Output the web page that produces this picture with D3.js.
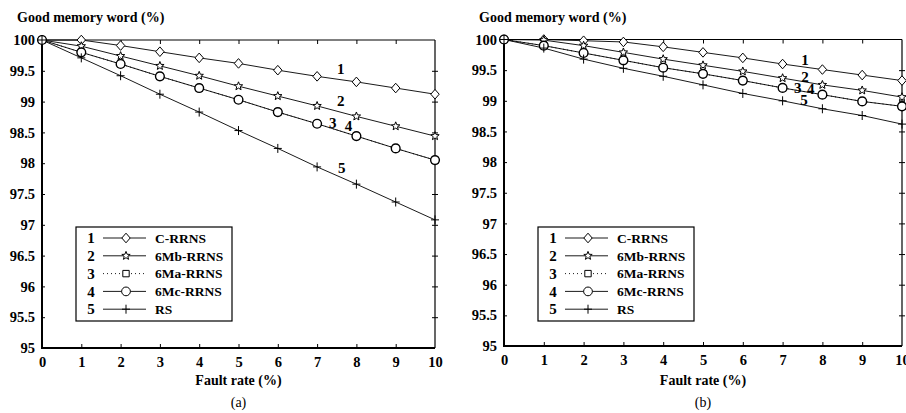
<!DOCTYPE html>
<html><head><meta charset="utf-8">
<script src="https://cdn.jsdelivr.net/npm/d3@7/dist/d3.min.js"></script>
<style>
html,body{margin:0;padding:0;background:#fff;}
svg text{font-family:"Liberation Serif","Times New Roman",serif;fill:#000;}
</style></head>
<body><svg id="chart" width="906" height="413"></svg>
<script>
// ---------- data ----------
const faultRate = [0,1,2,3,4,5,6,7,8,9,10];
const xTickLabels = ["0","1","2","3","4","5","6","7","8","9","10"];
const yTickValues = [95,95.5,96,96.5,97,97.5,98,98.5,99,99.5,100];
const yTickLabels = ["95","95.5","96","96.5","97","97.5","98","98.5","99","99.5","100"];
const seriesNumbers = ["1","2","3","4","5"];
const seriesNames = ["C-RRNS","6Mb-RRNS","6Ma-RRNS","6Mc-RRNS","RS"];
const panelLetters = ["(a)","(b)"];
const yTitle = "Good memory word (%)";
const xTitle = "Fault rate (%)";

// panel (a)
const a_CRRNS  = [100,100.0,99.91,99.81,99.71,99.62,99.51,99.41,99.32,99.22,99.12];
const a_6MbRRNS= [100,99.90,99.74,99.58,99.42,99.25,99.09,98.93,98.76,98.60,98.44];
const a_6MaRRNS= [100,99.80,99.61,99.41,99.22,99.03,98.83,98.64,98.44,98.24,98.05];
const a_6McRRNS= [100,99.80,99.61,99.41,99.22,99.03,98.83,98.64,98.44,98.24,98.05];
const a_RS     = [100,99.71,99.42,99.12,98.83,98.53,98.24,97.94,97.66,97.37,97.08];
// panel (b)
const b_CRRNS  = [100,100.0,99.98,99.96,99.88,99.79,99.70,99.60,99.51,99.42,99.33];
const b_6MbRRNS= [100,99.99,99.90,99.79,99.68,99.58,99.48,99.37,99.26,99.17,99.06];
const b_6MaRRNS= [100,99.90,99.78,99.66,99.54,99.44,99.33,99.21,99.10,98.99,98.91];
const b_6McRRNS= [100,99.90,99.78,99.66,99.54,99.44,99.33,99.21,99.10,98.99,98.91];
const b_RS     = [100,99.86,99.68,99.53,99.40,99.26,99.12,99.00,98.87,98.76,98.62];

// curve-number annotations (data coordinates: fault rate, percent)
const a_labelX = [7.6,7.6,7.4,7.8,7.63];
const a_labelY = [99.54,99.01,98.66,98.60,97.92];
const b_labelX = [7.56,7.56,7.38,7.71,7.54];
const b_labelY = [99.67,99.40,99.21,99.19,99.01];

// ---------- drawing ----------
const svg = d3.select("#chart");
const markerTypes = ["diamond","star","square","circle","plus"];
const dashes = [null,null,"1,3",null,null];

function markerPath(type){
  switch(type){
    case "diamond": return "M0,-4.8L4.2,0L0,4.8L-4.2,0Z";
    case "square": return "M-3.2,-3.2H3.2V3.2H-3.2Z";
    case "circle": return d3.symbol(d3.symbolCircle, 60)();
    case "star": {
      let p=""; for(let i=0;i<10;i++){const r=i%2?1.9:4.4;const a=-Math.PI/2+i*Math.PI/5;
        p+=(i?"L":"M")+(r*Math.cos(a)).toFixed(2)+","+(r*Math.sin(a)).toFixed(2);} return p+"Z";}
    case "plus": return "M-4,0H4M0,-4.5V4.5";
  }
}

function drawPanel(cfg){
  const g = svg.append("g");
  const x = d3.scaleLinear().domain([0,10]).range([cfg.x0,cfg.x1]);
  const y = d3.scaleLinear().domain([95,100]).range([cfg.yb,cfg.yt]);

  g.append("line").attr("x1",cfg.x0).attr("x2",cfg.x1).attr("y1",cfg.yt).attr("y2",cfg.yt).attr("stroke","#000").attr("stroke-width",1);
  g.append("line").attr("x1",cfg.x1).attr("x2",cfg.x1).attr("y1",cfg.yt).attr("y2",cfg.yb).attr("stroke","#000").attr("stroke-width",1.2);

  const xAxis = d3.axisBottom(x).tickValues(faultRate).tickFormat((d,i)=>xTickLabels[i]).tickSizeInner(-4).tickSizeOuter(0).tickPadding(9);
  const gx = g.append("g").attr("transform",`translate(0,${cfg.yb})`).call(xAxis);
  gx.select(".domain").attr("stroke-width",2).attr("d",`M${cfg.x0-1},0H${cfg.x1}`);
  gx.selectAll("text").attr("font-size",14.5).attr("font-weight","bold").attr("font-family","Liberation Serif");
  gx.selectAll(".tick line").filter(d=>d===0||d===10).remove();

  const yAxis = d3.axisLeft(y).tickValues(yTickValues).tickFormat((d,i)=>yTickLabels[i]).tickSizeInner(-3).tickSizeOuter(0).tickPadding(7);
  const gy = g.append("g").attr("transform",`translate(${cfg.x0},0)`).call(yAxis);
  gy.select(".domain").attr("stroke-width",2).attr("d",`M0,${cfg.yb+1}V${cfg.yt}`);
  gy.selectAll("text").attr("font-size",14.5).attr("font-weight","bold").attr("font-family","Liberation Serif");
  gy.selectAll(".tick line").filter(d=>d===95||d===100).remove();

  const xTop = d3.axisTop(x).tickValues(faultRate.slice(1,10)).tickFormat("").tickSizeInner(-4).tickSizeOuter(0);
  const gt = g.append("g").attr("transform",`translate(0,${cfg.yt})`).call(xTop);
  gt.select(".domain").remove();
  const yRight = d3.axisRight(y).tickValues(yTickValues.slice(1,10)).tickFormat("").tickSizeInner(-3).tickSizeOuter(0);
  const gr = g.append("g").attr("transform",`translate(${cfg.x1},0)`).call(yRight);
  gr.select(".domain").remove();
  gr.selectAll(".tick line").attr("x1",3);

  const line = d3.line().x((d,i)=>x(faultRate[i])).y(d=>y(d));
  cfg.series.forEach((s,k)=>{
    g.append("path").attr("d",line(s)).attr("fill","none").attr("stroke","#000").attr("stroke-width",0.9)
      .attr("stroke-dasharray",dashes[k]);
  });
  cfg.series.forEach((s,k)=>{
    g.selectAll(null).data(s).enter().append("path")
      .attr("transform",(d,i)=>`translate(${x(faultRate[i])},${y(d)})`)
      .attr("d",markerPath(markerTypes[k]))
      .attr("fill",markerTypes[k]==="plus"?"none":"#fff")
      .attr("stroke","#000").attr("stroke-width",markerTypes[k]==="circle"?1.4:1);
  });

  seriesNumbers.forEach((n,k)=>{
    g.append("text").attr("x",x(cfg.lx[k])).attr("y",y(cfg.ly[k])).attr("dy","0.35em")
      .attr("text-anchor","middle").attr("font-size",15).attr("font-weight","bold").text(n);
  });

  g.append("text").attr("x",cfg.x0-25).attr("y",22).attr("font-size",14).attr("font-weight","bold").text(yTitle);
  g.append("text").attr("x",(cfg.x0+cfg.x1)/2).attr("y",385).attr("text-anchor","middle").attr("font-size",14).attr("font-weight","bold").text(xTitle);
  g.append("text").attr("x",(cfg.x0+cfg.x1)/2).attr("y",407).attr("text-anchor","middle").attr("font-size",14).text(cfg.letter);

  const lx = cfg.x0+34, ly = 227, lw = 156, lh = 94;
  const lg = g.append("g");
  lg.append("rect").attr("x",lx).attr("y",ly).attr("width",lw).attr("height",lh).attr("fill","#fff").attr("stroke","#000").attr("stroke-width",1.2);
  seriesNames.forEach((name,k)=>{
    const cy = ly+11+k*17.8;
    lg.append("text").attr("x",lx+15).attr("y",cy).attr("dy","0.35em").attr("text-anchor","middle").attr("font-size",15).attr("font-weight","bold").text(seriesNumbers[k]);
    lg.append("line").attr("x1",lx+27).attr("x2",lx+70).attr("y1",cy).attr("y2",cy).attr("stroke","#000").attr("stroke-width",0.9).attr("stroke-dasharray",dashes[k]);
    lg.append("path").attr("transform",`translate(${lx+50},${cy})`).attr("d",markerPath(markerTypes[k]))
      .attr("fill",markerTypes[k]==="plus"?"none":"#fff").attr("stroke","#000").attr("stroke-width",1);
    lg.append("text").attr("x",lx+79).attr("y",cy).attr("dy","0.35em").attr("font-size",13.5).attr("font-weight","bold").text(name);
  });
}

drawPanel({x0:42,x1:435,yt:40,yb:348,letter:panelLetters[0],
  series:[a_CRRNS,a_6MbRRNS,a_6MaRRNS,a_6McRRNS,a_RS],lx:a_labelX,ly:a_labelY});
drawPanel({x0:504,x1:902,yt:39.5,yb:346,letter:panelLetters[1],
  series:[b_CRRNS,b_6MbRRNS,b_6MaRRNS,b_6McRRNS,b_RS],lx:b_labelX,ly:b_labelY});
</script></body></html>
